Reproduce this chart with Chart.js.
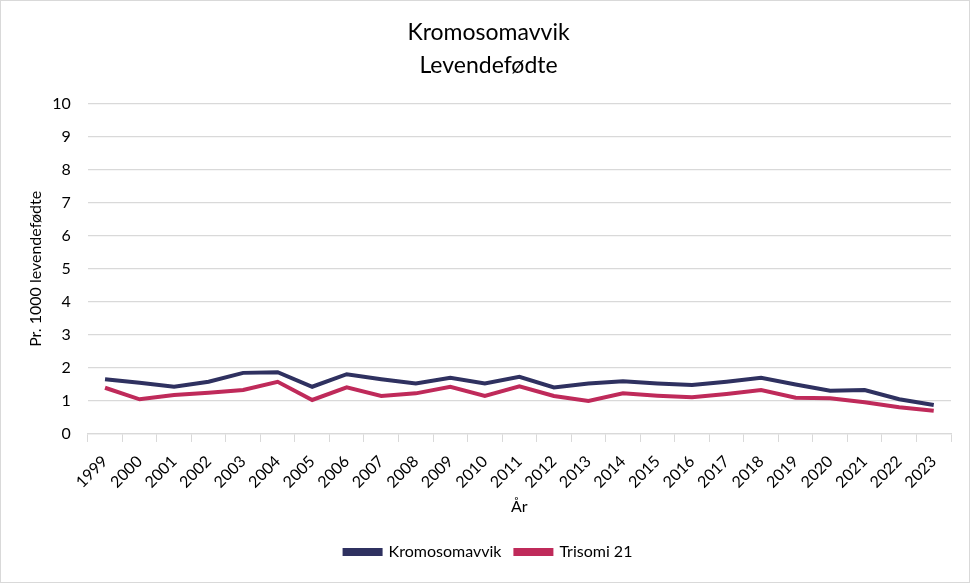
<!DOCTYPE html>
<html><head><meta charset="utf-8">
<script src="https://cdn.jsdelivr.net/npm/chart.js@4"></script>
<style>
html,body{margin:0;padding:0;background:#fff;}
#wrap{position:absolute;left:0;top:0;width:968px;height:581px;border:1px solid #d9d9d9;}
</style></head><body>
<div id="wrap"><canvas id="c" width="968" height="581"></canvas></div>
<script>
const years = ["1999","2000","2001","2002","2003","2004","2005","2006","2007","2008","2009","2010","2011","2012","2013","2014","2015","2016","2017","2018","2019","2020","2021","2022","2023"];
const kromosomavvik = [1.66,1.55,1.43,1.58,1.85,1.87,1.43,1.81,1.66,1.53,1.70,1.53,1.73,1.41,1.53,1.60,1.53,1.48,1.58,1.70,1.50,1.31,1.33,1.05,0.88];
const trisomi21 = [1.40,1.05,1.18,1.25,1.33,1.58,1.03,1.41,1.15,1.23,1.43,1.15,1.44,1.15,1.00,1.23,1.16,1.11,1.21,1.33,1.10,1.08,0.96,0.81,0.70];
const titleLines = ["Kromosomavvik","Levendefødte"];
const yTitle = "Pr. 1000 levendefødte";
const xTitle = "År";
const FONT = "Lato, 'Open Sans', sans-serif";
Chart.defaults.font.family = FONT;
Chart.defaults.color = "#404040";
new Chart(document.getElementById('c'), {
  type: 'line',
  data: {
    labels: years,
    datasets: [
      {label:"Kromosomavvik", data:kromosomavvik, borderColor:"#2f3160", backgroundColor:"#2f3160", borderWidth:4, pointRadius:0, tension:0},
      {label:"Trisomi 21", data:trisomi21, borderColor:"#bf2a5a", backgroundColor:"#bf2a5a", borderWidth:4, pointRadius:0, tension:0}
    ]
  },
  options: {
    responsive:false, animation:false,
    layout:{padding:{left:25,right:18,top:0,bottom:12}},
    plugins:{
      title:{display:true,text:titleLines,color:"#000",font:{size:23,weight:'normal',family:FONT,lineHeight:1.45},padding:{top:15,bottom:21}},
      legend:{position:'bottom',labels:{color:"#000",font:{size:16},boxWidth:36,boxHeight:4,padding:14}},
      tooltip:{enabled:false}
    },
    scales:{
      x:{
        offset:true,
        grid:{display:true,drawOnChartArea:false,drawTicks:true,tickLength:8,color:"#d9d9d9",offset:true},
        border:{display:true,color:"#d9d9d9",width:1.3},
        ticks:{color:"#000",font:{size:16},maxRotation:45,minRotation:45,autoSkip:false,padding:10},
        title:{display:true,text:xTitle,color:"#000",font:{size:16},padding:{top:-5,bottom:14}}
      },
      y:{
        min:0,max:10,
        ticks:{stepSize:1,color:"#000",font:{size:16},padding:17},
        grid:{color:"#d9d9d9",drawTicks:false,lineWidth:1.3},
        border:{display:false},
        title:{display:true,text:yTitle,color:"#000",font:{size:16},padding:{top:0,bottom:-10}}
      }
    }
  }
});
</script></body></html>
